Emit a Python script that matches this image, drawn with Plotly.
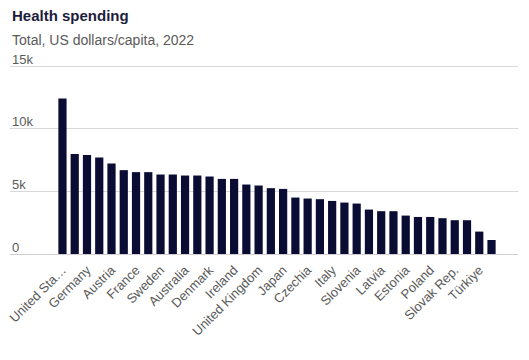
import plotly.graph_objects as go

countries = ["United States", "Switzerland", "Germany", "Norway", "Austria", "Netherlands",
             "France", "Canada", "Sweden", "Belgium", "Australia", "Luxembourg",
             "Denmark", "Iceland", "Ireland", "Finland", "United Kingdom", "New Zealand",
             "Japan", "Korea", "Czechia", "Spain", "Italy", "Portugal",
             "Slovenia", "Lithuania", "Latvia", "Israel", "Estonia", "Hungary",
             "Poland", "Greece", "Slovak Rep.", "Chile", "Türkiye", "Mexico"]
values = [12430, 7980, 7900, 7710, 7230, 6700,
          6540, 6540, 6350, 6350, 6270, 6270,
          6190, 6000, 6000, 5550, 5470, 5260,
          5200, 4510, 4430, 4380, 4240, 4110,
          4030, 3550, 3420, 3420, 3070, 2960,
          2960, 2860, 2700, 2700, 1790, 1120]
shown_labels = ["United Sta…", "Germany", "Austria", "France", "Sweden", "Australia",
                "Denmark", "Ireland", "United Kingdom", "Japan", "Czechia", "Italy",
                "Slovenia", "Latvia", "Estonia", "Poland", "Slovak Rep.", "Türkiye"]
y_ticks = [0, 5000, 10000, 15000]
y_tick_labels = ["0", "5k", "10k", "15k"]

font_family = "Arial, Liberation Sans, sans-serif"
label_color = "#5a5a5a"

fig = go.Figure(go.Bar(x=countries, y=values, marker_color="#0b0c33",
                       marker_line_width=0, hoverinfo="x+y"))

annotations = [
    dict(text="<b>Health spending</b>", xref="paper", yref="paper", x=0, y=1.26,
         xanchor="left", yanchor="middle", showarrow=False,
         font=dict(size=15, color="#1c1c3c", family=font_family)),
    dict(text="Total, US dollars/capita, 2022", xref="paper", yref="paper", x=0, y=1.133,
         xanchor="left", yanchor="middle", showarrow=False,
         font=dict(size=14, color=label_color, family=font_family)),
]
# y tick labels sit just above their gridlines, at the left edge
for v, t in zip(y_ticks, y_tick_labels):
    annotations.append(dict(text=t, xref="paper", yref="y", x=0, y=v,
                            xanchor="left", yanchor="middle", xshift=0, yshift=7,
                            showarrow=False,
                            font=dict(size=13, color=label_color, family=font_family)))

fig.update_layout(
    width=521, height=352,
    margin=dict(l=2, r=11, t=57, b=106, autoexpand=False),
    paper_bgcolor="white", plot_bgcolor="white",
    bargap=0.33,
    showlegend=False,
    font=dict(family=font_family, color="#555"),
    annotations=annotations,
)

fig.update_xaxes(
    type="category",
    range=[-4.28, 37.16],
    tickvals=countries[0::2], ticktext=shown_labels,
    tickangle=-45, tickfont=dict(size=13, color=label_color),
    ticklabelstandoff=5,
    showgrid=False, showline=False, ticks="", zeroline=False, automargin=False,
)
fig.update_yaxes(
    range=[0, 15100], tickvals=y_ticks, showticklabels=False,
    showgrid=True, gridcolor="#d8d8d8", gridwidth=1,
    zeroline=True, zerolinecolor="#cfcfcf", zerolinewidth=1,
    showline=False, ticks="", automargin=False,
)

fig.write_html("out.html")
